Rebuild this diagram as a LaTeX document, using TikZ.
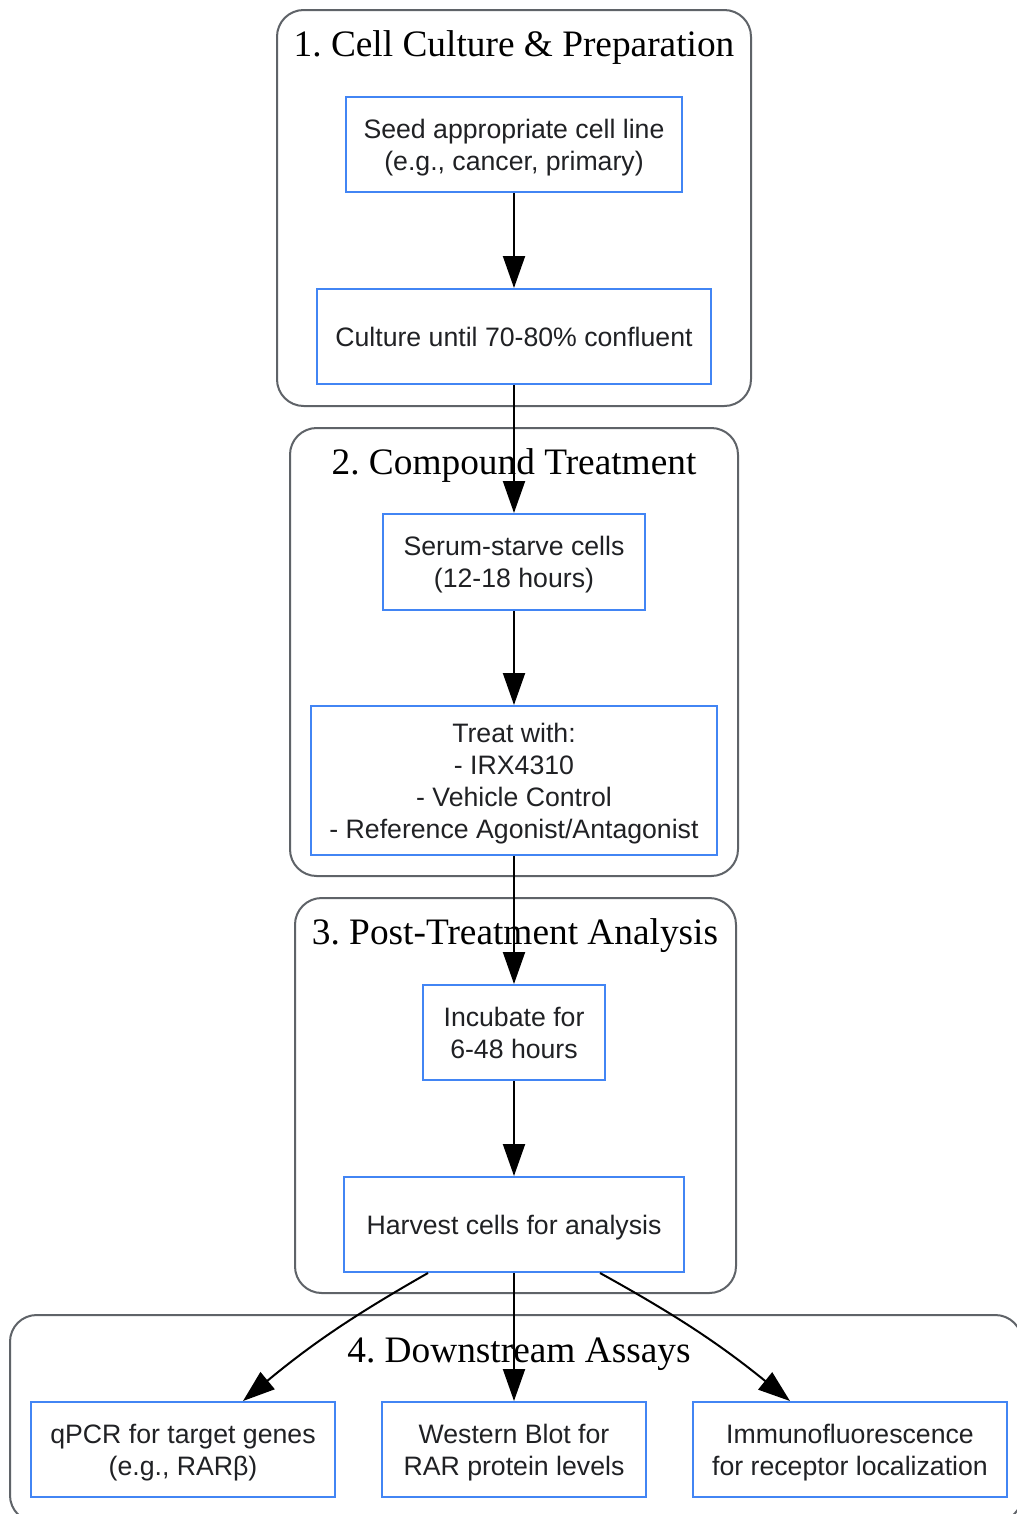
\documentclass[tikz,border=0pt]{standalone}
\usepackage{fontspec}
\setmainfont{Liberation Serif}
\newfontfamily\boxfont{Liberation Sans}
\usetikzlibrary{arrows.meta}
\definecolor{stepblue}{HTML}{4285F4}
\definecolor{groupgray}{HTML}{5F6368}
\definecolor{boxtext}{HTML}{202124}
\frenchspacing
\begin{document}
\begin{tikzpicture}[x=0.75pt,y=-0.75pt,
  group/.style={draw=groupgray,line width=1.5pt,rounded corners=20pt},
  grouptitle/.style={font=\fontsize{28}{33}\selectfont,text=black,inner sep=0pt,text depth=0pt},
  stepbox/.style={draw=stepblue,line width=1.5pt,fill=white,align=center,inner sep=0pt,text depth=0pt,
    text=boxtext,font=\boxfont\fontsize{20}{24}\selectfont,minimum height=71.25pt},
  flow/.style={line width=1.5pt,-{Triangle[length=24pt,width=16.5pt]}}]
\useasboundingbox (0,0) rectangle (1017,1514);
\fill[white] (0,0) rectangle (1017,1514);
\draw[group] (277,10) rectangle (751,406);
\draw[group] (290,428) rectangle (738,876);
\draw[group] (295,898) rectangle (736,1293);
\draw[group] (10,1315) rectangle (1022,1522);
\node[grouptitle] (t1) at (514,44) {1. Cell Culture \& Preparation};
\node[grouptitle] (t2) at (514,462) {2. Compound Treatment};
\node[grouptitle] (t3) at (515,932) {3. Post-Treatment Analysis};
\node[grouptitle] (t4) at (519,1350) {4. Downstream Assays};
\node[stepbox,minimum width=252pt] (seed) at (514,144.5) {Seed appropriate cell line\\(e.g., cancer, primary)};
\node[stepbox,minimum width=295.5pt] (culture) at (514,336.5) {Culture until 70-80\% confluent};
\node[stepbox,minimum width=196.5pt,minimum height=72pt] (starve) at (514,562) {Serum-starve cells\\(12-18 hours)};
\node[stepbox,minimum width=304.5pt,minimum height=111.75pt] (treat) at (514,780.5) {Treat with:\\- IRX4310\\- Vehicle Control\\- Reference Agonist/Antagonist};
\node[stepbox,minimum width=136.5pt] (incubate) at (514,1032.5) {Incubate for\\6-48 hours};
\node[stepbox,minimum width=255pt] (harvest) at (514,1224.5) {Harvest cells for analysis};
\node[stepbox,minimum width=228pt] (qpcr) at (183,1449.5) {qPCR for target genes\\(e.g., RARβ)};
\node[stepbox,minimum width=198pt] (western) at (514,1449.5) {Western Blot for\\RAR protein levels};
\node[stepbox,minimum width=235.5pt] (immuno) at (850,1449.5) {Immunofluorescence\\for receptor localization};
\draw[flow] (seed) -- (culture);
\draw[flow] (culture) -- (starve);
\draw[flow] (starve) -- (treat);
\draw[flow] (treat) -- (incubate);
\draw[flow] (incubate) -- (harvest);
\draw[flow] (harvest) -- (western);
\draw[flow] ([xshift=-64.5pt]harvest.south) to[bend right=5] ([xshift=45pt]qpcr.north);
\draw[flow] ([xshift=64.5pt]harvest.south) to[bend left=5] ([xshift=-45pt]immuno.north);
\end{tikzpicture}
\end{document}
